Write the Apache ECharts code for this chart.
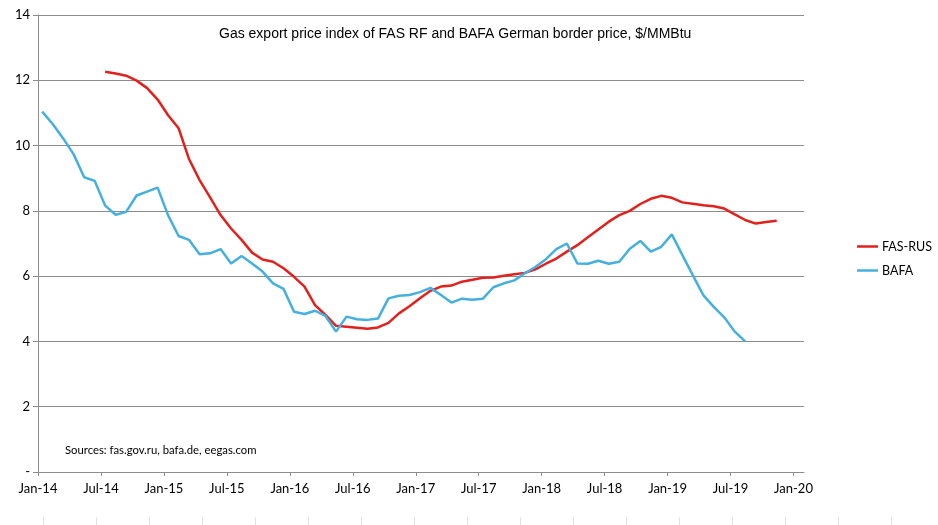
<!DOCTYPE html>
<html>
<head>
<meta charset="utf-8">
<script src="https://cdn.jsdelivr.net/npm/echarts@6/dist/echarts.min.js"></script>
<style>
  html, body { margin: 0; padding: 0; background: #fff; }
  #chart { width: 938px; height: 525px; }
</style>
</head>
<body>
<div id="chart"></div>
<script>
// Monthly points, Jan-14 .. Nov-19
const MONTHS = [
    'Jan-14','Feb-14','Mar-14','Apr-14','May-14','Jun-14','Jul-14','Aug-14','Sep-14','Oct-14','Nov-14','Dec-14',
    'Jan-15','Feb-15','Mar-15','Apr-15','May-15','Jun-15','Jul-15','Aug-15','Sep-15','Oct-15','Nov-15','Dec-15',
    'Jan-16','Feb-16','Mar-16','Apr-16','May-16','Jun-16','Jul-16','Aug-16','Sep-16','Oct-16','Nov-16','Dec-16',
    'Jan-17','Feb-17','Mar-17','Apr-17','May-17','Jun-17','Jul-17','Aug-17','Sep-17','Oct-17','Nov-17','Dec-17',
    'Jan-18','Feb-18','Mar-18','Apr-18','May-18','Jun-18','Jul-18','Aug-18','Sep-18','Oct-18','Nov-18','Dec-18',
    'Jan-19','Feb-19','Mar-19','Apr-19','May-19','Jun-19','Jul-19','Aug-19','Sep-19','Oct-19','Nov-19'
];

const FAS_RUS = [
    null, null, null, null, null, null, 12.26, 12.21, 12.14, 11.99, 11.76, 11.41,
    10.93, 10.53, 9.58, 8.94, 8.41, 7.87, 7.46, 7.11, 6.72, 6.51, 6.44, 6.24,
    5.98, 5.68, 5.11, 4.81, 4.48, 4.45, 4.42, 4.39, 4.43, 4.57, 4.86, 5.08,
    5.32, 5.55, 5.68, 5.71, 5.83, 5.89, 5.95, 5.96, 6.01, 6.06, 6.10, 6.21,
    6.38, 6.54, 6.75, 6.95, 7.19, 7.43, 7.67, 7.87, 8.00, 8.21, 8.37, 8.46,
    8.40, 8.26, 8.22, 8.17, 8.14, 8.07, 7.89, 7.72, 7.61, 7.66, 7.70
];

const BAFA = [
    11.04, 10.66, 10.22, 9.73, 9.03, 8.92, 8.16, 7.88, 7.97, 8.47, 8.59, 8.71,
    7.86, 7.23, 7.11, 6.67, 6.70, 6.83, 6.39, 6.62, 6.39, 6.14, 5.78, 5.61,
    4.91, 4.84, 4.94, 4.78, 4.30, 4.76, 4.68, 4.66, 4.70, 5.32, 5.40, 5.42,
    5.51, 5.64, 5.42, 5.19, 5.31, 5.28, 5.31, 5.66, 5.78, 5.87, 6.09, 6.28,
    6.52, 6.83, 7.00, 6.39, 6.38, 6.47, 6.38, 6.44, 6.84, 7.08, 6.75, 6.90,
    7.28, 6.65, 6.03, 5.42, 5.06, 4.74, 4.30, 4.00
];

// axis ticks every 6 months: Jan-14 .. Jan-20
const X_TICK_LABELS = ['Jan-14','Jul-14','Jan-15','Jul-15','Jan-16','Jul-16','Jan-17','Jul-17','Jan-18','Jul-18','Jan-19','Jul-19','Jan-20'];

const TITLE   = 'Gas export price index of FAS RF and BAFA German border price, $/MMBtu';
const SOURCES = 'Sources: fas.gov.ru, bafa.de, eegas.com';

const RED  = '#E3211C';
const BLUE = '#45B0E0';
const GRID = '#8C8C8C';
const FONT = 'Lato, "Open Sans", sans-serif';

// points sit a little after the month start (mid-month dates)
const DAY_OFFSET = 0.4;
const toPairs = arr => arr.map((v, i) => v === null ? null : [i + DAY_OFFSET, v]).filter(p => p);

const tickVals = X_TICK_LABELS.map((_, i) => i * 6);

const chart = echarts.init(document.getElementById('chart'), null, { renderer: 'canvas' });

chart.setOption({
    backgroundColor: '#fff',
    animation: false,
    textStyle: { fontFamily: FONT },
    title: {
        text: TITLE,
        left: 214, top: 22,
        textStyle: { fontFamily: '"Liberation Sans", Arial, sans-serif', fontSize: 14, fontWeight: 'normal', color: '#000' }
    },
    legend: {
        orient: 'vertical',
        left: 852, top: 235,
        icon: 'rect',
        itemWidth: 21, itemHeight: 2.5, itemGap: 11,
        textStyle: { fontFamily: FONT, fontSize: 12.5, color: '#000', padding: [0, 0, 0, -1] },
        data: ['FAS-RUS', 'BAFA']
    },
    graphic: [{
        type: 'text', left: 65, top: 445,
        style: { text: SOURCES, font: '11.3px Lato, sans-serif', fill: '#000' }
    }],
    grid: [
        { left: 38, right: 134, top: 15, bottom: 53 },
        { left: 43, right: 47, top: 516, height: 1 }
    ],
    xAxis: [{
        type: 'value', gridIndex: 0,
        min: 0, max: 73,
        axisLine: { lineStyle: { color: GRID } },
        axisTick: { show: true, length: 4, customValues: tickVals, lineStyle: { color: GRID } },
        axisLabel: {
            customValues: tickVals, margin: 10,
            formatter: v => X_TICK_LABELS[Math.round(v / 6)] || '',
            fontFamily: FONT, fontSize: 13, color: '#000'
        },
        splitLine: { show: false }
    }, {
        // faint marks along the bottom edge
        type: 'value', gridIndex: 1,
        min: 0, max: 16,
        axisLine: { show: false },
        axisTick: { show: true, length: 8, customValues: [0,1,2,3,4,5,6,7,8,9,10,11,12,13,14,15,16], lineStyle: { color: '#e2e2e2' } },
        axisLabel: { show: false },
        splitLine: { show: false }
    }],
    yAxis: [{
        type: 'value', gridIndex: 0,
        min: 0, max: 14, interval: 2,
        axisLine: { show: true, lineStyle: { color: GRID } },
        axisTick: { show: true, length: 5, lineStyle: { color: GRID } },
        axisLabel: {
            margin: 8,
            formatter: v => v === 0 ? '-' : String(v),
            fontFamily: FONT, fontSize: 13, color: '#000'
        },
        splitLine: { lineStyle: { color: GRID, width: 1 } }
    }, {
        type: 'value', gridIndex: 1, show: false
    }],
    series: [
        { name: 'FAS-RUS', type: 'line', xAxisIndex: 0, yAxisIndex: 0,
          data: toPairs(FAS_RUS), symbol: 'none', color: RED,
          lineStyle: { width: 2.5, color: RED } },
        { name: 'BAFA', type: 'line', xAxisIndex: 0, yAxisIndex: 0,
          data: toPairs(BAFA), symbol: 'none', color: BLUE,
          lineStyle: { width: 2.5, color: BLUE } }
    ]
});
</script>
</body>
</html>
